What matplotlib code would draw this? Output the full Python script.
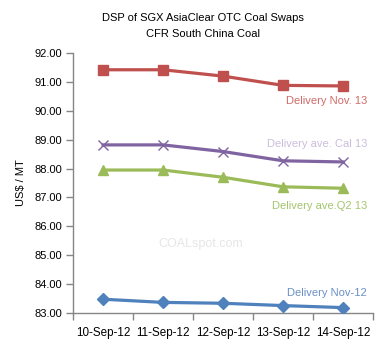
import matplotlib.pyplot as plt
import numpy as np

plt.rcParams['font.family'] = ['Liberation Sans', 'DejaVu Sans']

dates = ['10-Sep-12', '11-Sep-12', '12-Sep-12', '13-Sep-12', '14-Sep-12']
nov13 = [91.42, 91.42, 91.20, 90.88, 90.86]
cal13 = [88.82, 88.82, 88.59, 88.27, 88.23]
q213 = [87.95, 87.95, 87.70, 87.37, 87.32]
nov12 = [83.48, 83.37, 83.34, 83.26, 83.19]

RED = '#C0504D'
PURPLE = '#8064A2'
GREEN = '#9BBB59'
BLUE = '#4F81BD'
AXIS = '#868686'

fig = plt.figure(figsize=(3.79, 3.51), dpi=100)
ax = fig.add_axes([0.193, 0.108, 0.791, 0.741])
x = np.arange(len(dates))

ax.plot(x, nov13, color=RED, linewidth=2.3, marker='s', markersize=7, zorder=3)
ax.plot(x, cal13, color=PURPLE, linewidth=2.3, marker='x', markersize=7,
        markeredgewidth=1.0, zorder=3)
ax.plot(x, q213, color=GREEN, linewidth=2.3, marker='^', markersize=7, zorder=3)
ax.plot(x, nov12, color=BLUE, linewidth=2.3, marker='D', markersize=6, zorder=3)

# series labels
ax.text(4.4, 90.35, 'Delivery Nov. 13', color='#D06A68', fontsize=8, ha='right', va='center')
ax.text(4.4, 88.85, 'Delivery ave. Cal 13', color='#C9BEDB', fontsize=8, ha='right', va='center')
ax.text(4.4, 86.7, 'Delivery ave.Q2 13', color='#A4C46C', fontsize=8, ha='right', va='center')
ax.text(4.4, 83.7, 'Delivery Nov-12', color='#6A90C6', fontsize=8, ha='right', va='center')
ax.text(1.63, 85.4, 'COALspot.com', color='#E6E6E6', fontsize=9, ha='center', va='center')

ax.set_xlim(-0.5, 4.5)
ax.set_ylim(83, 92)
ax.set_yticks(np.arange(83, 92.01, 1))
ax.set_yticklabels([f'{v:.2f}' for v in np.arange(83, 92.01, 1)])
ax.set_xticks(x)
ax.set_xticklabels(dates)
ax.set_xticks(np.arange(-0.5, 4.6, 1), minor=True)
ax.tick_params(axis='x', which='major', length=0, pad=10, labelsize=8.4)
ax.tick_params(axis='x', which='minor', length=5, color=AXIS, width=1)
ax.tick_params(axis='y', length=5, color=AXIS, width=1, labelsize=8, pad=3)

for s in ['top', 'right']:
    ax.spines[s].set_visible(False)
for s in ['left', 'bottom']:
    ax.spines[s].set_color(AXIS)
    ax.spines[s].set_linewidth(1)

ax.set_ylabel('US$ / MT', fontsize=8, labelpad=6)
fig.text(0.535, 0.95, 'DSP of SGX AsiaClear OTC Coal Swaps', ha='center', va='center', fontsize=8)
fig.text(0.535, 0.903, 'CFR South China Coal', ha='center', va='center', fontsize=8)

fig.savefig('out.png', dpi=100)
